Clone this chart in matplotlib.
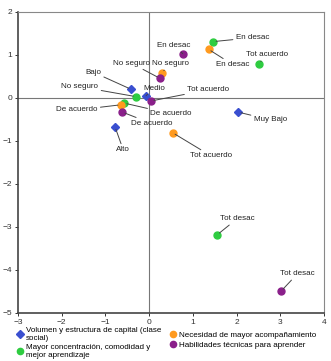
import numpy as np
import matplotlib.pyplot as plt

plt.rcParams['font.family'] = ['Liberation Sans', 'DejaVu Sans']

series_names = [
    "Volumen y estructura de capital (clase\nsocial)",
    "Mayor concentración, comodidad y\nmejor aprendizaje",
    "Necesidad de mayor acompañamiento",
    "Habilidades técnicas para aprender",
]

# category labels, coordinates per series
blue_labels = ["Bajo", "Medio", "Alto", "Muy Bajo"]
blue_x = [-0.41, -0.07, -0.78, 2.04]
blue_y = [0.20, 0.05, -0.67, -0.33]

green_labels = ["No seguro", "De acuerdo", "En desac", "Tot acuerdo", "Tot desac"]
green_x = [-0.30, -0.57, 1.47, 2.51, 1.56]
green_y = [0.03, -0.12, 1.31, 0.80, -3.18]

orange_labels = ["No seguro", "De acuerdo", "En desac", "Tot acuerdo"]
orange_x = [0.29, -0.65, 1.36, 0.54]
orange_y = [0.59, -0.16, 1.13, -0.81]

purple_labels = ["No seguro", "En desac", "De acuerdo", "Tot acuerdo", "Tot desac"]
purple_x = [0.24, 0.77, -0.61, 0.05, 3.02]
purple_y = [0.46, 1.03, -0.33, -0.07, -4.49]

# where each label text sits (layout only)
blue_txt = [(-1.28, 0.60), (0.11, 0.23), (-0.59, -1.21), (2.77, -0.51)]
green_txt = [(-1.58, 0.26), (0.50, -0.37), (2.36, 1.40), (2.70, 1.00), (2.01, -2.81)]
orange_txt = [(0.50, 0.79), (-1.65, -0.28), (1.92, 0.77), (1.42, -1.35)]
purple_txt = [(-0.41, 0.81), (0.57, 1.21), (0.07, -0.60), (1.35, 0.19), (3.39, -4.09)]

fig = plt.figure(figsize=(3.31, 3.61), dpi=100)
ax = fig.add_axes([0.054, 0.133, 0.925, 0.834])

ax.axhline(0, color="#777777", lw=0.8, zorder=1)
ax.axvline(0, color="#777777", lw=0.8, zorder=1)

groups = [
    (blue_x, blue_y, blue_labels, blue_txt, "#3a4fd0", "D", 4),
    (green_x, green_y, green_labels, green_txt, "#2ecc40", "o", 5),
    (orange_x, orange_y, orange_labels, orange_txt, "#ff9a1f", "o", 5),
    (purple_x, purple_y, purple_labels, purple_txt, "#8a1f8a", "o", 5),
]

for (xs, ys, labs, txt, col, mk, ms), name in zip(groups, series_names):
    ax.plot(xs, ys, ls="none", marker=mk, ms=ms, color=col,
            mec=col, label=name, zorder=3)
    for x, y, lab, (tx, ty) in zip(xs, ys, labs, txt):
        ax.annotate(lab, xy=(x, y), xytext=(tx, ty), fontsize=5.8,
                    ha="center", va="center", color="#222222",
                    arrowprops=dict(arrowstyle="-", color="#444444", lw=0.7,
                                    shrinkA=0, shrinkB=2))

ax.set_xlim(-3, 4)
ax.set_ylim(-5, 2)
ax.set_xticks(np.arange(-3, 5))
ax.set_yticks(np.arange(-5, 3))
ax.tick_params(labelsize=6, length=2.5, width=0.7, pad=1.5, colors="#333333")
for s in ["left", "bottom"]:
    ax.spines[s].set_color("#444444")
    ax.spines[s].set_linewidth(1.2)
for s in ["top", "right"]:
    ax.spines[s].set_color("#888888")
    ax.spines[s].set_linewidth(0.8)

fig.legend(loc="upper left", bbox_to_anchor=(0.05, 0.094), ncol=2,
           frameon=False, fontsize=5.8, handlelength=0.8, handletextpad=0.4,
           columnspacing=1.0, labelspacing=0.25, borderpad=0, borderaxespad=0,
           markerscale=0.9)

fig.savefig("out.png", dpi=100)
